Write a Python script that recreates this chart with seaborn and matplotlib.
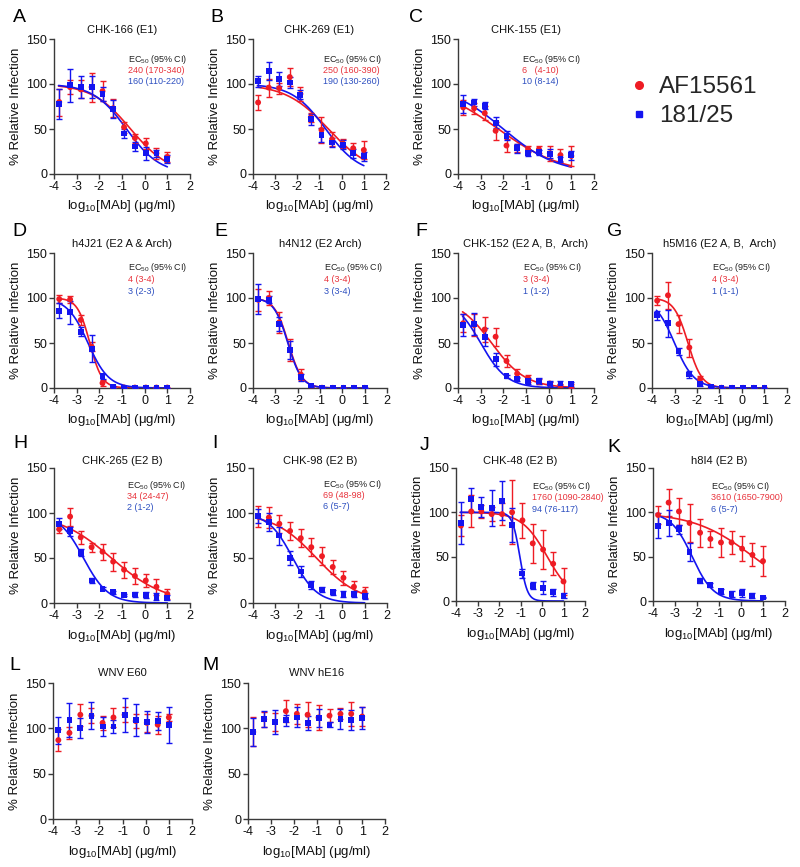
import numpy as np
import pandas as pd
import matplotlib
matplotlib.use("Agg")
import matplotlib.pyplot as plt
import seaborn as sns
from matplotlib.lines import Line2D

sns.set_theme(style="ticks")
plt.rcParams['font.family'] = ['Liberation Sans', 'DejaVu Sans']
plt.rcParams['mathtext.default'] = 'regular'
plt.rcParams['axes.unicode_minus'] = False

RED = '#ee1c24'
BLUE = '#1414f0'
RED_TXT = '#e8333c'
BLUE_TXT = '#2d4fc0'
STRAINS = ['AF15561', '181/25']

# ---------------- data ----------------
LOG_CONC = [-3.77, -3.29, -2.82, -2.34, -1.86, -1.39, -0.91, -0.43, 0.05, 0.52, 1.00]

LETTERS = ['A', 'B', 'C', 'D', 'E', 'F', 'G', 'H', 'I', 'J', 'K', 'L', 'M']
TITLES = ['CHK-166 (E1)', 'CHK-269 (E1)', 'CHK-155 (E1)',
          'h4J21 (E2 A & Arch)', 'h4N12 (E2 Arch)', 'CHK-152 (E2 A, B,  Arch)', 'h5M16 (E2 A, B,  Arch)',
          'CHK-265 (E2 B)', 'CHK-98 (E2 B)', 'CHK-48 (E2 B)', 'h8I4 (E2 B)',
          'WNV E60', 'WNV hE16']
EC50_RED_TXT = ['240 (170-340)', '250 (160-390)', '6   (4-10)', '4 (3-4)', '4 (3-4)', '3 (3-4)', '4 (3-4)',
                '34 (24-47)', '69 (48-98)', '1760 (1090-2840)', '3610 (1650-7900)']
EC50_BLUE_TXT = ['160 (110-220)', '190 (130-260)', '10 (8-14)', '3 (2-3)', '3 (3-4)', '1 (1-2)', '1 (1-1)',
                 '2 (1-2)', '6 (5-7)', '94 (76-117)', '6 (5-7)']

# fitted dose-response parameters (log10 EC50 in ug/ml, Hill slope)
FIT_RED_LOGEC50 = [-0.62, -0.60, -2.22, -2.42, -2.42, -2.52, -2.40, -1.47, -1.16, 0.245, 0.558]
FIT_RED_HILL = [0.51, 0.45, 0.31, 1.6, 1.4, 0.58, 1.4, 0.37, 0.45, 0.73, 0.32]
FIT_BLUE_LOGEC50 = [-0.80, -0.72, -2.00, -2.50, -2.44, -3.00, -3.00, -2.70, -2.22, -1.03, -2.22]
FIT_BLUE_HILL = [0.59, 0.575, 0.36, 0.95, 1.4, 0.75, 1.0, 0.8, 0.8, 2.5, 0.9]

A_red = [80, 96.5, 94, 96.5, 92, 73, 52, 40, 34, 23, 19]
A_red_err = [15, 8, 10, 16, 11, 10, 6, 5, 6, 6, 6]
A_blue = [77.6, 98.4, 97, 96.5, 88.7, 72, 45, 30.5, 23, 23, 16.7]
A_blue_err = [17, 18, 12, 12, 8, 10, 5, 5, 7, 4, 4]

B_red = [79.5, 96, 95.4, 107.7, 89, 63, 49, 38.6, 34, 28.6, 26.7]
B_red_err = [8, 10, 6, 10, 8, 5, 14, 8, 5, 6, 10]
B_blue = [103, 114.7, 105.8, 101.7, 88, 61, 43.4, 35, 32.3, 23, 20]
B_blue_err = [6, 10, 8, 6, 5, 6, 8, 5, 5, 5, 5]

C_red = [74, 73, 67.6, 48, 31.6, 29, 27.8, 27.5, 23, 21, 20]
C_red_err = [8, 6, 8, 10, 7, 4, 3, 4, 8, 7, 11]
C_blue = [78, 79.5, 75.7, 57, 42.3, 28.6, 23, 24, 22.3, 16.3, 21]
C_blue_err = [10, 4, 4, 6, 5, 5, 3, 3, 5, 3, 5]

D_red = [98.8, 98.4, 75.6, 46, 5.5, 0.7, 0.5, 0.5, 0.5, 0.5, 0.5]
D_red_err = [4, 4, 6, 5, 3, 0.5, 0, 0, 0, 0, 0]
D_blue = [86, 84, 62.7, 43.5, 13, 0.7, 0.5, 0.5, 0.5, 0.5, 0.5]
D_blue_err = [8, 13, 5, 15, 3, 1, 0, 0, 0, 0, 0]

E_red = [98, 100, 73, 42, 15, 1.5, 0.3, 0.2, 0.2, 0.2, 0.2]
E_red_err = [12, 8, 12, 12, 6, 0.5, 0, 0, 0, 0, 0]
E_blue = [99, 98, 71, 42, 12, 2, 0.3, 0.2, 0.2, 0.2, 0.2]
E_blue_err = [17, 4, 8, 10, 4, 0.5, 0, 0, 0, 0, 0]

F_red = [72, 70, 65, 57, 30, 16, 11, 7, 5, 3, 2]
F_red_err = [10, 12, 14, 10, 7, 5, 4, 3, 2, 2, 2]
F_blue = [70, 71, 57, 32, 13, 10, 8, 8, 5, 5, 4]
F_blue_err = [12, 12, 10, 7, 2, 2, 3, 3, 3, 3, 3]

G_red = [97, 103, 71, 45, 10, 1, 0.3, 0.2, 0.2, 0.2, 0.2]
G_red_err = [5, 15, 10, 10, 3, 0.5, 0, 0, 0, 0, 0]
G_blue = [81, 72, 41, 15, 4, 1, 0.5, 0.3, 0.3, 0.3, 0.3]
G_blue_err = [5, 15, 4, 4, 2, 0.5, 0, 0, 0, 0, 0]

H_red = [82, 96, 73, 62, 57, 46, 37, 30, 25, 18, 10]
H_red_err = [4, 10, 7, 5, 9, 10, 9, 9, 7, 9, 6]
H_blue = [88, 80, 56, 25, 16, 12, 9, 9.5, 9, 7, 6]
H_blue_err = [6, 5, 4, 3, 2, 1.5, 1, 3, 3, 4, 3]

I_red = [96, 95, 88, 80, 72, 62, 52, 40, 28, 18, 12]
I_red_err = [12, 12, 10, 10, 10, 10, 10, 8, 8, 6, 6]
I_blue = [97, 90, 75, 50, 35, 20, 15, 12, 10, 10, 8]
I_blue_err = [8, 10, 10, 8, 6, 4, 3, 3, 3, 3, 3]

J_red = [85, 101, 101, 98, 98, 100, 91, 65, 58, 42, 22]
J_red_err = [12, 18, 7, 8, 12, 36, 20, 22, 22, 13, 15]
J_blue = [88, 115, 106, 105, 113, 86, 31, 17, 15, 10, 6]
J_blue_err = [24, 13, 11, 20, 22, 19, 5, 4, 7, 4, 3]

K_red = [97, 111, 101, 88, 77, 70, 66, 66, 59, 52, 45]
K_red_err = [10, 15, 15, 21, 16, 9, 16, 13, 14, 13, 17]
K_blue = [85, 88, 81, 55, 23, 18, 11, 8, 9, 6, 4]
K_blue_err = [14, 15, 5, 10, 3, 2, 3, 3, 4, 3, 1]

L_red = [87, 95, 115, 114, 106, 112, 115, 108, 106, 104, 112]
L_red_err = [12, 7, 12, 8, 8, 10, 8, 8, 10, 10, 4]
L_blue = [98, 109, 100, 114, 102, 102, 115, 109, 107, 108, 104]
L_blue_err = [15, 19, 11, 15, 10, 7, 19, 18, 12, 10, 20]

M_red = [96, 110, 107, 119, 116, 115, 112, 114, 116, 116, 113]
M_red_err = [16, 8, 10, 12, 11, 14, 14, 7, 6, 13, 10]
M_blue = [96, 110, 107, 109, 112, 106, 111, 104, 110, 109, 111]
M_blue_err = [15, 9, 13, 6, 11, 8, 10, 3, 11, 11, 12]

RED_VALS = [A_red, B_red, C_red, D_red, E_red, F_red, G_red, H_red, I_red, J_red, K_red, L_red, M_red]
RED_ERRS = [A_red_err, B_red_err, C_red_err, D_red_err, E_red_err, F_red_err, G_red_err,
            H_red_err, I_red_err, J_red_err, K_red_err, L_red_err, M_red_err]
BLUE_VALS = [A_blue, B_blue, C_blue, D_blue, E_blue, F_blue, G_blue, H_blue, I_blue, J_blue, K_blue, L_blue, M_blue]
BLUE_ERRS = [A_blue_err, B_blue_err, C_blue_err, D_blue_err, E_blue_err, F_blue_err, G_blue_err,
             H_blue_err, I_blue_err, J_blue_err, K_blue_err, L_blue_err, M_blue_err]

# ---------------- layout (pixels) ----------------
W, H = 800, 867
# left, right, top, bottom of each axes
AX_BOX = [(54, 190, 39, 174), (253, 386, 39, 174), (458, 594, 39, 174),
          (54, 190, 253, 388), (253, 387, 253, 388), (458, 594, 253, 388), (652, 787, 253, 388),
          (54, 190, 468, 603), (253, 387, 468, 603), (456, 585, 468, 601), (653, 785, 468, 601),
          (53, 192, 683, 819), (248, 385, 683, 819)]
LETTER_POS = [(19, 18), (217, 18), (416, 18),
              (19, 231), (221, 231), (421, 231), (615, 231),
              (20, 444), (215, 444), (425, 446), (614, 447),
              (15, 665), (210, 665)]
TITLE_Y = [30, 30, 30, 244, 244, 244, 244, 461, 461, 461, 461, 673, 673]
EC_POS = [(128, 59), (323, 59), (522, 59),
          (128, 268), (324, 268), (523, 268), (712, 268),
          (127, 485), (323, 484), (532, 486), (711, 486)]
EC_STEP = 11.5

fig = plt.figure(figsize=(W / 100, H / 100), dpi=100)


def fx(px):
    return px / W


def fy(py):
    return 1 - py / H


grid = np.linspace(-3.8, 1.0, 200)
SPINE = '#3a3a3a'

for i, letter in enumerate(LETTERS):
    l, r, t, b = AX_BOX[i]
    ax = fig.add_axes([fx(l), fy(b), (r - l) / W, (b - t) / H])
    pts = pd.DataFrame({
        'x': LOG_CONC * 2,
        'y': RED_VALS[i] + BLUE_VALS[i],
        'err': RED_ERRS[i] + BLUE_ERRS[i],
        'strain': [STRAINS[0]] * len(LOG_CONC) + [STRAINS[1]] * len(LOG_CONC),
    })
    if i < len(FIT_RED_HILL):
        curves = []
        for s, le, h in [(STRAINS[0], FIT_RED_LOGEC50[i], FIT_RED_HILL[i]),
                         (STRAINS[1], FIT_BLUE_LOGEC50[i], FIT_BLUE_HILL[i])]:
            curves.append(pd.DataFrame({'x': grid,
                                        'y': 100 / (1 + 10 ** ((grid - le) * h)),
                                        'strain': s}))
        cdf = pd.concat(curves)
        sns.lineplot(data=cdf, x='x', y='y', hue='strain', palette=[RED, BLUE],
                     hue_order=STRAINS, lw=1.2, legend=False, ax=ax, zorder=2)
    for s, c in zip(STRAINS, [RED, BLUE]):
        sub = pts[pts.strain == s]
        ax.errorbar(sub.x, sub.y, yerr=sub.err, fmt='none', ecolor=c, elinewidth=1.0,
                    capsize=2.3, capthick=1.0, zorder=3)
    sns.scatterplot(data=pts, x='x', y='y', hue='strain', style='strain',
                    markers={STRAINS[0]: 'o', STRAINS[1]: 's'}, palette=[RED, BLUE],
                    hue_order=STRAINS, s=18, linewidth=0, legend=False, ax=ax, zorder=4)

    ax.set_xlim(-4, 2)
    ax.set_ylim(0, 150)
    ax.set_xticks(range(-4, 3))
    ax.set_yticks([0, 50, 100, 150])
    ax.tick_params(labelsize=9, length=3.5, width=1, color=SPINE, pad=1.5, labelcolor='#111111')
    for sp in ['top', 'right']:
        ax.spines[sp].set_visible(False)
    for sp in ['left', 'bottom']:
        ax.spines[sp].set_color(SPINE)
        ax.spines[sp].set_linewidth(1)
    ax.set_xlabel('log$_{10}$[MAb] (μg/ml)', fontsize=9.5, labelpad=4, color='#111111')
    ax.set_ylabel('% Relative Infection', fontsize=9.5, labelpad=3, color='#111111')

    fig.text(fx((l + r) / 2), fy(TITLE_Y[i]), TITLES[i], ha='center', va='center', fontsize=8,
             color='#111111')
    fig.text(fx(LETTER_POS[i][0]), fy(LETTER_POS[i][1]), letter, ha='center', va='center',
             fontsize=14, color='#000000')
    if i < len(EC50_RED_TXT):
        ex, ey = EC_POS[i]
        fig.text(fx(ex), fy(ey), 'EC$_{50}$ (95% CI)', ha='left', va='center', fontsize=6.5,
                 color='#222222')
        fig.text(fx(ex), fy(ey + EC_STEP), EC50_RED_TXT[i], ha='left', va='center', fontsize=6.5,
                 color=RED_TXT)
        fig.text(fx(ex), fy(ey + 2 * EC_STEP), EC50_BLUE_TXT[i], ha='left', va='center', fontsize=6.5,
                 color=BLUE_TXT)

handles = [Line2D([], [], marker='o', ls='none', color=RED, markersize=5.5),
           Line2D([], [], marker='s', ls='none', color=BLUE, markersize=5)]
fig.legend(handles, STRAINS, loc='upper left', bbox_to_anchor=(fx(612), fy(64)), frameon=False,
           fontsize=17.5, handletextpad=0.25, labelspacing=0.3, handlelength=1.2, borderpad=0)

fig.savefig('out.png', dpi=100)
